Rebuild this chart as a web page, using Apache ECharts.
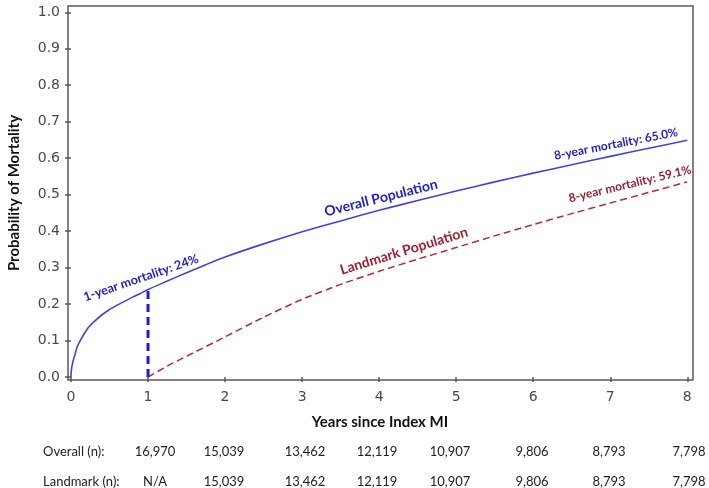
<!DOCTYPE html>
<html><head><meta charset="utf-8">
<script src="https://cdn.jsdelivr.net/npm/echarts@6/dist/echarts.min.js"></script>
<style>html,body{margin:0;padding:0;background:#fff}#c{width:709px;height:488px}</style>
</head><body><div id="c"></div>
<script>
// ---- data ----
const overallYears = [0, 0.002, 0.006, 0.012, 0.02, 0.035, 0.05, 0.08, 0.12, 0.17, 0.23, 0.3, 0.4, 0.5, 0.6, 0.7, 0.8, 0.9, 1.0, 1.25, 1.5, 1.75, 2, 2.5, 3, 3.5, 4, 4.5, 5, 5.5, 6, 6.5, 7, 7.5, 8];
const overallProb  = [0, 0.012, 0.021, 0.029, 0.037, 0.05, 0.06, 0.083, 0.1, 0.118, 0.137, 0.152, 0.17, 0.185, 0.197, 0.208, 0.219, 0.229, 0.24, 0.263, 0.286, 0.308, 0.329, 0.365, 0.398, 0.428, 0.457, 0.484, 0.51, 0.535, 0.559, 0.582, 0.605, 0.627, 0.649];
const landmarkYears = [1, 1.25, 1.5, 2, 2.5, 3, 3.5, 4, 4.5, 5, 5.5, 6, 6.5, 7, 7.5, 8];
const landmarkProb  = [0, 0.03, 0.057, 0.11, 0.164, 0.213, 0.254, 0.29, 0.323, 0.355, 0.387, 0.418, 0.448, 0.477, 0.506, 0.535];
const oneYear = [1, 0.24];
const rowLabels = ['Overall (n):', 'Landmark (n):'];
const overallN  = ['16,970', '15,039', '13,462', '12,119', '10,907', '9,806', '8,793', '7,798'];
const landmarkN = ['N/A', '15,039', '13,462', '12,119', '10,907', '9,806', '8,793', '7,798'];
const annotations = [
  {text: '1-year mortality: 24%', color: '#1c1cd6', size: 12.5},
  {text: 'Overall Population', color: '#1c1cd6', size: 14},
  {text: 'Landmark Population', color: '#a11d2e', size: 14},
  {text: '8-year mortality: 65.0%', color: '#1c1cd6', size: 12},
  {text: '8-year mortality: 59.1%', color: '#a11d2e', size: 12}
];
// ---- layout (pixels) ----
const annPos = [[141, 278, 19], [381, 198, 14], [404, 251, 17], [616, 144, 11], [630, 184, 13.5]];
const tableColX = [155, 224, 305, 377, 450, 532, 609, 689];
const tableRowY = [452, 482];

const chart = echarts.init(document.getElementById('c'), null, {renderer: 'canvas'});
const zip = (a, b) => a.map((v, i) => [v, b[i]]);
const FONT = 'Lato, "Open Sans", sans-serif';
const center = {align: 'center', verticalAlign: 'middle', textAlign: 'center', textVerticalAlign: 'middle'};

const graphic = [
  {type: 'rect', shape: {x: 68, y: 6, width: 625, height: 374}, style: {fill: 'none', stroke: '#5a5a5a', lineWidth: 1.5}, z: 1},
  {type: 'text', x: 380, y: 422, style: Object.assign({text: 'Years since Index MI', font: 'bold 15px ' + FONT, fill: '#111'}, center)},
  {type: 'text', x: 14, y: 193, rotation: Math.PI / 2, style: Object.assign({text: 'Probability of Mortality', font: 'bold 15px ' + FONT, fill: '#111'}, center)}
];
annotations.forEach((a, i) => {
  const p = annPos[i];
  graphic.push({type: 'text', x: p[0], y: p[1], rotation: p[2] * Math.PI / 180, z: 10,
    style: Object.assign({text: a.text, font: 'bold ' + a.size + 'px ' + FONT, fill: a.color}, center)});
});
[overallN, landmarkN].forEach((row, r) => {
  graphic.push({type: 'text', x: 43, y: tableRowY[r], style: {text: rowLabels[r], font: '13px ' + FONT, fill: '#222', align: 'left', verticalAlign: 'middle', textAlign: 'left', textVerticalAlign: 'middle'}});
  row.forEach((v, c) => {
    graphic.push({type: 'text', x: tableColX[c], y: tableRowY[r], style: Object.assign({text: v, font: '13px ' + FONT, fill: '#222'}, center)});
  });
});

chart.setOption({
  animation: false,
  backgroundColor: '#fff',
  grid: {left: 71, right: 21.7, top: 12.3, bottom: 111, containLabel: false},
  xAxis: {type: 'value', min: 0, max: 8, interval: 1, offset: 3,
    axisLine: {show: false}, splitLine: {show: false},
    axisTick: {show: true, length: 5, lineStyle: {color: '#555', width: 1.5}},
    axisLabel: {color: '#4a4a4a', fontSize: 14, fontFamily: '"DejaVu Sans", sans-serif', margin: 10}},
  yAxis: {type: 'value', min: 0, max: 1, interval: 0.1, offset: 3,
    axisLine: {show: false}, splitLine: {show: false},
    axisTick: {show: true, length: 6, lineStyle: {color: '#555', width: 1.5}},
    axisLabel: {color: '#4a4a4a', fontSize: 14, fontFamily: '"DejaVu Sans", sans-serif', margin: 8, formatter: v => v.toFixed(1)}},
  graphic: graphic,
  series: [
    {type: 'line', data: zip(overallYears, overallProb), smooth: 0.2, showSymbol: false, z: 3,
      lineStyle: {color: '#4444d4', width: 1.6}},
    {type: 'line', data: zip(landmarkYears, landmarkProb), smooth: 0.2, showSymbol: false, z: 3,
      lineStyle: {color: '#b32b3c', width: 1.5, type: [7, 4]}},
    {type: 'line', data: [[oneYear[0], 0], oneYear], showSymbol: false, z: 4,
      lineStyle: {color: '#1a1ae0', width: 3, type: [8, 5]}}
  ]
});
</script></body></html>
